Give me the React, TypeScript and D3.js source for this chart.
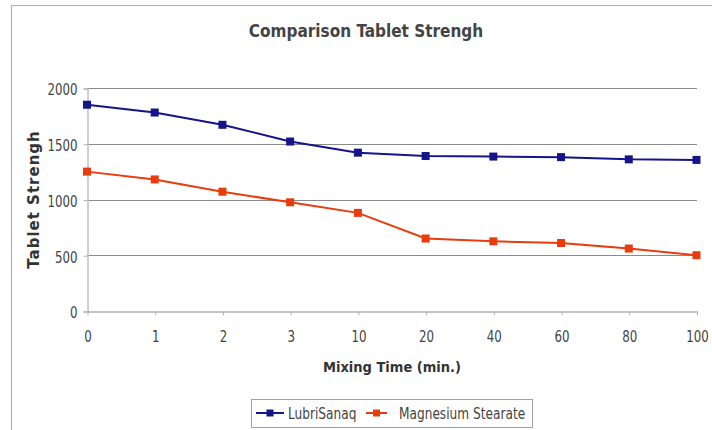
import React, { useEffect, useRef } from "react";
import * as d3 from "d3";

const categories = ["0", "1", "2", "3", "10", "20", "40", "60", "80", "100"];
const lubriSanaq = [1850, 1780, 1670, 1520, 1420, 1390, 1385, 1380, 1360, 1355];
const magnesiumStearate = [1250, 1180, 1070, 975, 880, 650, 625, 610, 560, 500];
const yTicks = [0, 500, 1000, 1500, 2000];

const series = [
  { name: "LubriSanaq", values: lubriSanaq, color: "#14148c" },
  { name: "Magnesium Stearate", values: magnesiumStearate, color: "#e83c0c" },
];

const W = 712;
const H = 430;
const margin = { left: 87, right: 15, top: 88, bottom: 119 };
const font = "'DejaVu Sans Condensed', 'DejaVu Sans', sans-serif";
// the original uses a narrow face; squeeze the condensed one to match
const squeeze = 0.82;

function App() {
  const svgRef = useRef<SVGSVGElement>(null);

  useEffect(() => {
    const svg = d3.select(svgRef.current);
    svg.selectAll("*").remove();

    const x = d3.scalePoint<string>()
      .domain(categories)
      .range([margin.left, W - margin.right - 0.5]);
    const y = d3.scaleLinear()
      .domain([0, 2000])
      .range([H - margin.bottom, margin.top]);

    // outer frame
    svg.append("path")
      .attr("d", `M11.5,${H} V5.5 H${W}`)
      .attr("fill", "none")
      .attr("stroke", "#b0b0b0")
      .attr("stroke-width", 1.2);

    // gridlines
    svg.append("g")
      .selectAll("line")
      .data(yTicks.slice(1))
      .join("line")
      .attr("x1", margin.left)
      .attr("x2", W - margin.right)
      .attr("y1", d => Math.round(y(d)) + 0.5)
      .attr("y2", d => Math.round(y(d)) + 0.5)
      .attr("stroke", "#8a8a8a");

    const yAxis = d3.axisLeft(y).tickValues(yTicks).tickFormat(d3.format("d")).tickSize(4);
    const gy = svg.append("g")
      .attr("transform", `translate(${margin.left + 0.5},0.5)`)
      .call(yAxis);
    gy.select(".domain").attr("stroke", "#c0c0c0").attr("stroke-width", 1.5);
    gy.selectAll(".tick line").attr("stroke", "#b5b5b5");
    gy.selectAll("text")
      .attr("font-family", font)
      .attr("font-size", 16)
      .attr("x", -10 / squeeze)
      .attr("dy", "0.4em")
      .attr("transform", `scale(${squeeze},1)`)
      .attr("fill", "#444");

    const xAxis = d3.axisBottom(x).tickSize(4).tickPadding(15).tickSizeOuter(0);
    const gx = svg.append("g")
      .attr("transform", `translate(0.5,${H - margin.bottom + 0.5})`)
      .call(xAxis);
    gx.select(".domain").attr("stroke", "#8a8a8a");
    gx.selectAll(".tick line").attr("stroke", "#b5b5b5");
    gx.selectAll("text")
      .attr("font-family", font)
      .attr("font-size", 16)
      .attr("transform", `scale(${squeeze},1)`)
      .attr("fill", "#444");

    const line = d3.line<number>()
      .x((d, i) => x(categories[i])!)
      .y(d => y(d));

    series.forEach(s => {
      const g = svg.append("g");
      g.append("path")
        .datum(s.values)
        .attr("d", line)
        .attr("fill", "none")
        .attr("stroke", s.color)
        .attr("stroke-width", 2);
      g.selectAll("rect")
        .data(s.values)
        .join("rect")
        .attr("x", (d, i) => x(categories[i])! - 4)
        .attr("y", d => y(d) - 4)
        .attr("width", 8)
        .attr("height", 8)
        .attr("fill", s.color);
    });

    // title
    svg.append("text")
      .attr("x", 366)
      .attr("y", 37)
      .attr("text-anchor", "middle")
      .attr("font-family", font)
      .attr("font-weight", "bold")
      .attr("font-size", 17)
      .attr("fill", "#444")
      .text("Comparison Tablet Strengh");

    // x axis title
    svg.append("text")
      .attr("x", 392)
      .attr("y", 372)
      .attr("text-anchor", "middle")
      .attr("font-family", font)
      .attr("font-weight", "bold")
      .attr("font-size", 14.5)
      .attr("fill", "#333")
      .text("Mixing Time (min.)");

    // y axis title
    svg.append("text")
      .attr("transform", `translate(39,${(margin.top + H - margin.bottom) / 2}) rotate(-90)`)
      .attr("text-anchor", "middle")
      .attr("font-family", "'DejaVu Sans', Verdana, sans-serif")
      .attr("font-weight", "bold")
      .attr("font-size", 15)
      .attr("fill", "#333")
      .attr("letter-spacing", 1)
      .text("Tablet Strengh");

    // legend
    const lg = svg.append("g").attr("transform", "translate(251,399)");
    lg.append("rect")
      .attr("x", 0.5)
      .attr("y", 0.5)
      .attr("width", 281)
      .attr("height", 28)
      .attr("fill", "#fff")
      .attr("stroke", "#a0a0a0");
    const items = [
      { offset: 5, len: 28, gap: 4 },
      { offset: 115, len: 21, gap: 12 },
    ];
    series.forEach((s, i) => {
      const { offset, len, gap } = items[i];
      const item = lg.append("g").attr("transform", `translate(${offset},14)`);
      item.append("line")
        .attr("x1", 0)
        .attr("x2", len)
        .attr("stroke", s.color)
        .attr("stroke-width", 2);
      item.append("rect")
        .attr("x", len / 2 - 3.5)
        .attr("y", -3.5)
        .attr("width", 7)
        .attr("height", 7)
        .attr("fill", s.color);
      item.append("text")
        .attr("transform", `translate(${len + gap},6) scale(${squeeze},1)`)
        .attr("font-family", font)
        .attr("font-size", 16.5)
        .attr("fill", "#444")
        .text(s.name);
    });
  }, []);

  return (
    <svg
      ref={svgRef}
      width={W}
      height={H}
      style={{ display: "block", position: "fixed", left: 0, top: 0, background: "#fff" }}
    />
  );
}

export default App;
